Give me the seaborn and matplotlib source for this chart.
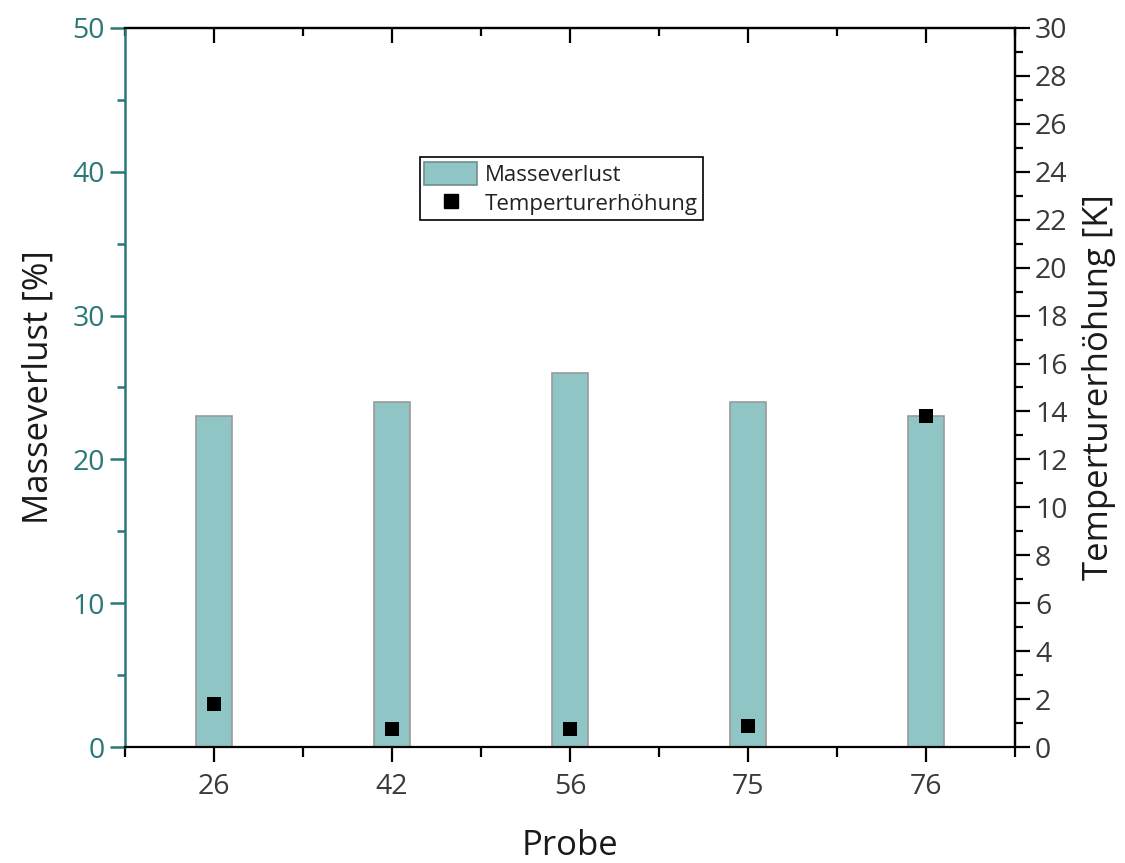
import numpy as np
import pandas as pd
import matplotlib
matplotlib.use("Agg")
import matplotlib.pyplot as plt
from matplotlib.patches import Patch
from matplotlib.lines import Line2D
from matplotlib.ticker import MultipleLocator, FixedLocator
import seaborn as sns

# Data
proben = ["26", "42", "56", "75", "76"]
masseverlust = [23, 24, 26, 24, 23]
temperaturerhoehung = [1.8, 0.75, 0.75, 0.88, 13.8]

sns.set_theme(style="white")
plt.rcParams["font.family"] = ["Open Sans", "DejaVu Sans"]

teal = "#2a7878"
bar_color = "#8fc6c5"
tick_gray = "#3a3a3a"
TICK_FS = 20.5

fig = plt.figure(figsize=(11.25, 8.63), dpi=100)
ax = fig.add_axes([0.1111, 0.1344, 0.7911, 0.8332])

df = pd.DataFrame({"Probe": proben, "Masseverlust": masseverlust, "Temp": temperaturerhoehung})

sns.barplot(data=df, x="Probe", y="Masseverlust", order=proben, color=bar_color,
            saturation=1, width=0.2, edgecolor="#9a9a9a", linewidth=1.2, ax=ax)

ax.set_xlim(-0.5, len(proben) - 0.5)
ax.set_ylim(0, 50)
ax.yaxis.set_major_locator(MultipleLocator(10))
ax.yaxis.set_minor_locator(MultipleLocator(5))
ax.xaxis.set_major_locator(FixedLocator(range(len(proben))))
ax.set_xticklabels(proben)
ax.xaxis.set_minor_locator(FixedLocator(np.arange(-0.5, len(proben), 1.0)))

for s in ["top", "bottom", "right"]:
    ax.spines[s].set_color("black")
    ax.spines[s].set_linewidth(1.6)
ax.spines["left"].set_color(teal)
ax.spines["left"].set_linewidth(1.8)

ax.tick_params(axis="y", which="both", direction="out", colors=teal, labelsize=TICK_FS,
               left=True, width=1.8)
ax.tick_params(axis="y", which="major", length=11)
ax.tick_params(axis="y", which="minor", length=6)
ax.tick_params(axis="y", labelcolor=teal)
ax.tick_params(axis="x", which="both", direction="out", bottom=True, top=False,
               color="black", width=1.6, labelsize=TICK_FS, labelcolor=tick_gray, pad=8)
ax.tick_params(axis="x", which="major", length=11)
ax.tick_params(axis="x", which="minor", length=7)

ax.set_xlabel("Probe", fontsize=25, labelpad=20, color="#1a1a1a")
ax.set_ylabel("Masseverlust [%]", fontsize=25, labelpad=12, color="#1a1a1a")

# top inward ticks via secondary axis
top = ax.secondary_xaxis("top")
top.xaxis.set_major_locator(FixedLocator(range(len(proben))))
top.xaxis.set_minor_locator(FixedLocator(np.arange(-0.5, len(proben), 1.0)))
top.tick_params(axis="x", which="both", direction="in", width=1.6, color="black",
                labeltop=False)
top.tick_params(axis="x", which="major", length=11)
top.tick_params(axis="x", which="minor", length=6)
top.spines["top"].set_linewidth(1.6)

ax2 = ax.twinx()
sns.stripplot(data=df, x="Probe", y="Temp", order=proben, jitter=False, marker="s",
              color="black", size=10, ax=ax2, zorder=5)
ax2.set_xlim(-0.5, len(proben) - 0.5)
ax2.set_ylim(0, 30)
ax2.yaxis.set_major_locator(MultipleLocator(2))
ax2.yaxis.set_minor_locator(MultipleLocator(1))
ax2.tick_params(axis="y", which="both", direction="out", right=True, color="black",
                width=1.6, labelsize=TICK_FS, labelcolor=tick_gray)
ax2.tick_params(axis="y", which="major", length=11)
ax2.tick_params(axis="y", which="minor", length=6)
ax2.set_ylabel("Temperturerhöhung [K]", fontsize=25, labelpad=10, color="#1a1a1a")
for s in ["top", "bottom", "left"]:
    ax2.spines[s].set_visible(False)
ax2.spines["right"].set_color("black")
ax2.spines["right"].set_linewidth(1.6)
ax2.set_xlabel("")

handles = [
    Patch(facecolor=bar_color, edgecolor="#6f8f8f", linewidth=1.2, label="Masseverlust"),
    Line2D([], [], marker="s", linestyle="none", color="black", markersize=10,
           label="Temperturerhöhung"),
]
leg = ax2.legend(handles=handles, loc="upper left", bbox_to_anchor=(0.331, 0.82),
                 fontsize=16, frameon=True, fancybox=False, framealpha=1,
                 edgecolor="black", borderpad=0.2, labelspacing=0.25,
                 handlelength=2.4, handleheight=1.2, handletextpad=0.35,
                 borderaxespad=0)
leg.get_frame().set_linewidth(1.2)
for t in leg.get_texts():
    t.set_color("#222222")

fig.savefig("out.png", dpi=100)
